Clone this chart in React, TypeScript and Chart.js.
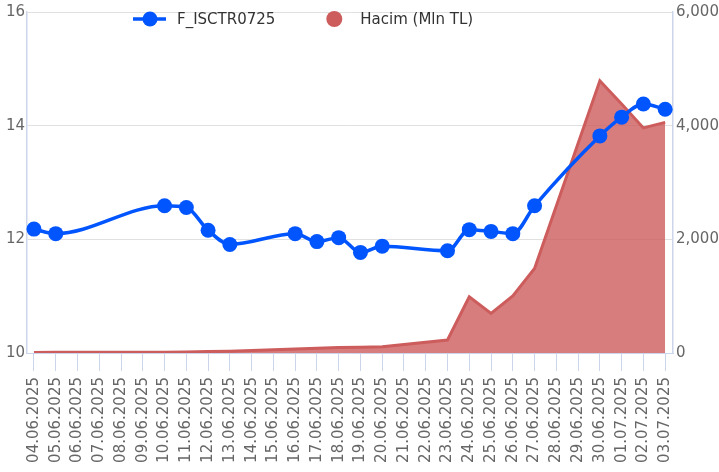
import React, { useEffect, useRef } from "react";
import { Chart, registerables } from "chart.js";

Chart.register(...registerables);

const dates = [
  "04.06.2025", "05.06.2025", "06.06.2025", "07.06.2025", "08.06.2025", "09.06.2025",
  "10.06.2025", "11.06.2025", "12.06.2025", "13.06.2025", "14.06.2025", "15.06.2025",
  "16.06.2025", "17.06.2025", "18.06.2025", "19.06.2025", "20.06.2025", "21.06.2025",
  "22.06.2025", "23.06.2025", "24.06.2025", "25.06.2025", "26.06.2025", "27.06.2025",
  "28.06.2025", "29.06.2025", "30.06.2025", "01.07.2025", "02.07.2025", "03.07.2025",
];

const priceValues: (number | null)[] = [
  12.18, 12.10, null, null, null, null,
  12.59, 12.56, 12.16, 11.91, null, null,
  12.10, 11.96, 12.03, 11.77, 11.88, null,
  null, 11.80, 12.17, 12.14, 12.10, 12.59,
  null, null, 13.82, 14.15, 14.38, 14.29,
];

const volumeValues: (number | null)[] = [
  10, 12, null, null, null, null,
  15, 18, 25, 30, null, null,
  70, 85, 95, 100, 108, null,
  null, 228, 988, 696, 1005, 1486,
  null, null, 4790, 4380, 3960, 4058,
];

const leftTicks = [10, 12, 14, 16];
const rightTicks = [0, 2000, 4000, 6000];

const seriesNames = ["F_ISCTR0725", "Hacim (Mln TL)"];

const BLUE = "#0055ff";
const RED = "#cd5c5c";
const FONT = "'DejaVu Sans', Verdana, sans-serif";

const legendPlugin = {
  id: "customLegend",
  afterDraw(chart: any) {
    const ctx = chart.ctx as CanvasRenderingContext2D;
    ctx.save();
    ctx.font = `15px ${FONT}`;
    ctx.textBaseline = "middle";
    ctx.textAlign = "left";
    const y = 19;
    let x = 133;
    ctx.strokeStyle = BLUE;
    ctx.lineWidth = 3.5;
    ctx.beginPath();
    ctx.moveTo(x, y);
    ctx.lineTo(x + 33, y);
    ctx.stroke();
    ctx.fillStyle = BLUE;
    ctx.beginPath();
    ctx.arc(x + 17, y, 7.5, 0, Math.PI * 2);
    ctx.fill();
    x += 44;
    ctx.fillStyle = "#333333";
    ctx.fillText(seriesNames[0], x, y + 1);
    x += ctx.measureText(seriesNames[0]).width + 42;
    ctx.fillStyle = RED;
    ctx.beginPath();
    ctx.arc(x + 17, y, 8, 0, Math.PI * 2);
    ctx.fill();
    x += 43;
    ctx.fillStyle = "#333333";
    ctx.fillText(seriesNames[1], x, y + 1);
    ctx.restore();
  },
};

export default function App() {
  const canvasRef = useRef<HTMLCanvasElement | null>(null);

  useEffect(() => {
    document.body.style.margin = "0";
    const canvas = canvasRef.current;
    if (!canvas) return;

    const chart = new Chart(canvas, {
      type: "line",
      data: {
        datasets: [
          {
            label: seriesNames[0],
            data: priceValues.map((v, i) => ({ x: i, y: v })) as any,
            yAxisID: "y",
            borderColor: BLUE,
            backgroundColor: BLUE,
            borderWidth: 3.5,
            cubicInterpolationMode: "monotone",
            spanGaps: true,
            pointRadius: 7.5,
            pointHoverRadius: 7.5,
            pointBackgroundColor: BLUE,
            pointBorderWidth: 0,
            fill: false,
            clip: false as any,
          },
          {
            label: seriesNames[1],
            data: volumeValues.map((v, i) => ({ x: i, y: v })) as any,
            yAxisID: "y1",
            borderColor: RED,
            backgroundColor: "rgba(205,92,92,0.8)",
            borderWidth: 3,
            tension: 0,
            spanGaps: true,
            pointRadius: 0,
            pointHoverRadius: 0,
            fill: "origin",
          },
        ],
      },
      options: {
        responsive: true,
        maintainAspectRatio: false,
        animation: false,
        layout: { padding: { top: 11, left: 0, right: 0, bottom: 0 } },
        plugins: {
          legend: { display: false },
          tooltip: { enabled: false },
        },
        scales: {
          x: {
            type: "linear",
            min: -0.32,
            max: 29.36,
            afterBuildTicks: (scale: any) => {
              scale.ticks = dates.map((_, i) => ({ value: i }));
            },
            afterFit: (scale: any) => {
              scale.height = 119;
            },
            ticks: {
              autoSkip: false,
              maxRotation: 90,
              minRotation: 90,
              padding: 6,
              color: "#666666",
              font: { family: FONT, size: 15 },
              callback: (value: any) => dates[Math.round(Number(value))] ?? "",
            },
            grid: {
              drawOnChartArea: false,
              drawTicks: true,
              tickLength: 18,
              tickColor: "#ccd6eb",
              tickWidth: 1,
            },
            border: { color: "#ccd6eb", width: 1 },
          },
          y: {
            type: "linear",
            position: "left",
            min: leftTicks[0],
            max: leftTicks[leftTicks.length - 1],
            afterBuildTicks: (scale: any) => {
              scale.ticks = leftTicks.map((v) => ({ value: v }));
            },
            afterFit: (scale: any) => {
              scale.width = 27;
            },
            ticks: {
              padding: 2,
              color: "#666666",
              font: { family: FONT, size: 15 },
              callback: (v: any) => String(v),
            },
            grid: { color: "#e0e0e0", lineWidth: 1, drawTicks: false },
            border: { color: "#ccd6eb", width: 1.5 },
          },
          y1: {
            type: "linear",
            position: "right",
            min: rightTicks[0],
            max: rightTicks[rightTicks.length - 1],
            afterBuildTicks: (scale: any) => {
              scale.ticks = rightTicks.map((v) => ({ value: v }));
            },
            afterFit: (scale: any) => {
              scale.width = 46;
            },
            ticks: {
              padding: 3,
              color: "#666666",
              font: { family: FONT, size: 15 },
              callback: (v: any) => Number(v).toLocaleString("en-US"),
            },
            grid: { drawOnChartArea: false, drawTicks: false },
            border: { color: "#ccd6eb", width: 1.5 },
          },
        },
      },
      plugins: [legendPlugin],
    });

    return () => {
      chart.destroy();
    };
  }, []);

  return (
    <div style={{ width: "719px", height: "472px", position: "relative" }}>
      <canvas ref={canvasRef} />
    </div>
  );
}
